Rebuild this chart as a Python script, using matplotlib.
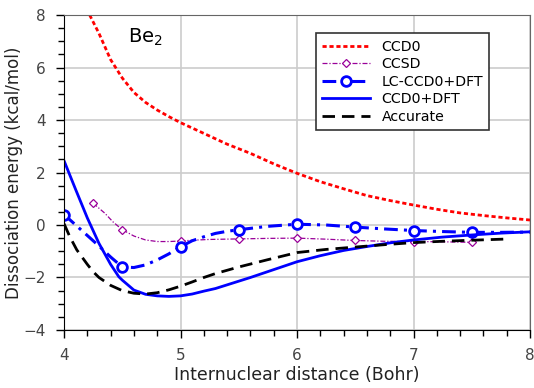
import numpy as np
import matplotlib
matplotlib.use("Agg")
import matplotlib.pyplot as plt
from matplotlib.ticker import MultipleLocator

# ======================
# DATA
# ======================
ccd0_x = [4.22, 4.3, 4.4, 4.5, 4.6, 4.7, 4.8, 4.9, 5.0, 5.2, 5.4, 5.6, 5.8,
          6.0, 6.2, 6.4, 6.6, 6.8, 7.0, 7.2, 7.4, 7.6, 7.8, 8.0]
ccd0_y = [8.0, 7.3, 6.3, 5.6, 5.05, 4.67, 4.38, 4.13, 3.9, 3.49, 3.08, 2.73, 2.33,
          1.97, 1.65, 1.38, 1.12, 0.93, 0.76, 0.6, 0.46, 0.36, 0.27, 0.19]

ccsd_x = [4.25, 4.35, 4.42, 4.5, 4.6, 4.7, 4.8, 4.9, 5.0, 5.1, 5.25, 5.5, 5.75,
          6.0, 6.25, 6.5, 6.75, 7.0, 7.25, 7.5]
ccsd_y = [0.83, 0.45, 0.12, -0.18, -0.42, -0.57, -0.63, -0.63, -0.61, -0.58, -0.55,
          -0.53, -0.51, -0.50, -0.54, -0.59, -0.62, -0.63, -0.64, -0.66]
ccsd_pts = [4.25, 4.5, 5.0, 5.5, 6.0, 6.5, 7.0, 7.5]

lc_x = [4.0, 4.1, 4.2, 4.3, 4.4, 4.5, 4.6, 4.7, 4.8, 4.9, 5.0, 5.1, 5.2, 5.3,
        5.4, 5.5, 5.75, 6.0, 6.25, 6.5, 6.75, 7.0, 7.25, 7.5, 7.75, 8.0]
lc_y = [0.4, 0.0, -0.4, -0.8, -1.22, -1.6, -1.62, -1.52, -1.33, -1.1, -0.83, -0.6,
        -0.45, -0.32, -0.24, -0.18, -0.05, 0.03, 0.0, -0.08, -0.15, -0.21, -0.25,
        -0.28, -0.28, -0.27]
lc_pts = [4.0, 4.5, 5.0, 5.5, 6.0, 6.5, 7.0, 7.5]

dft_x = [4.0, 4.1, 4.2, 4.3, 4.4, 4.47, 4.5, 4.6, 4.7, 4.8, 4.9, 5.0, 5.1, 5.2,
         5.3, 5.4, 5.6, 5.8, 6.0, 6.2, 6.4, 6.6, 6.8, 7.0, 7.25, 7.5, 7.75, 8.0]
dft_y = [2.45, 1.35, 0.27, -0.7, -1.5, -1.97, -2.1, -2.48, -2.64, -2.7, -2.72, -2.7,
         -2.63, -2.52, -2.42, -2.28, -2.0, -1.7, -1.4, -1.17, -0.97, -0.82, -0.68,
         -0.57, -0.46, -0.38, -0.31, -0.26]

acc_x = [4.0, 4.05, 4.11, 4.2, 4.25, 4.3, 4.4, 4.5, 4.6, 4.7, 4.8, 4.9, 5.0, 5.1,
         5.2, 5.3, 5.5, 5.75, 6.0, 6.25, 6.5, 6.75, 7.0, 7.25, 7.5, 7.83]
acc_y = [0.05, -0.45, -0.95, -1.5, -1.78, -2.0, -2.3, -2.5, -2.6, -2.63, -2.58,
         -2.47, -2.33, -2.17, -2.0, -1.85, -1.6, -1.32, -1.05, -0.93, -0.84, -0.75,
         -0.67, -0.62, -0.58, -0.53]

plt.rcParams["font.family"] = ["DejaVu Sans"]

fig = plt.figure(figsize=(5.34, 3.88), dpi=100)
ax = fig.add_axes([0.1199, 0.1495, 0.8726, 0.8118])

ax.plot(ccd0_x, ccd0_y, color="red", lw=2.0, linestyle=(0, (1.5, 1.0)), label="CCD0")
ax.plot(ccsd_x, ccsd_y, color="#990099", lw=0.9, linestyle=(0, (4, 1.5, 1, 1.5)),
        marker="D", markersize=4.5, mfc="white", mec="#990099", mew=0.9,
        markevery=list(np.flatnonzero(np.isin(ccsd_x, ccsd_pts))), label="CCSD")
ax.plot(lc_x, lc_y, color="blue", lw=2.2, linestyle=(0, (4.5, 2, 1, 2)),
        marker="o", markersize=7, mfc="white", mec="blue", mew=2.0,
        markevery=list(np.flatnonzero(np.isin(lc_x, lc_pts))), label="LC-CCD0+DFT")
ax.plot(dft_x, dft_y, color="blue", lw=2.0, label="CCD0+DFT")
ax.plot(acc_x, acc_y, color="black", lw=2.0, linestyle=(0, (4.5, 2.5)), label="Accurate")

ax.set_xlim(4, 8)
ax.set_ylim(-4, 8)
ax.xaxis.set_major_locator(MultipleLocator(1))
ax.xaxis.set_minor_locator(MultipleLocator(0.2))
ax.yaxis.set_major_locator(MultipleLocator(2))
ax.yaxis.set_minor_locator(MultipleLocator(0.5))
ax.tick_params(which="both", direction="out", top=False, right=False,
               colors="black", labelcolor="#444444", labelsize=11)
ax.tick_params(which="major", length=6, width=1.0, pad=7)
ax.tick_params(which="minor", length=4, width=1.0)
ax.grid(True, which="major", color="#cccccc", lw=1.2)
ax.set_axisbelow(True)

for side in ["top", "right"]:
    ax.spines[side].set_color("#666666")
for side in ["left", "bottom"]:
    ax.spines[side].set_color("black")

ax.set_xlabel("Internuclear distance (Bohr)", fontsize=12.5, color="#222222", labelpad=2)
ax.set_ylabel("Dissociation energy (kcal/mol)", fontsize=12, color="#222222")
ax.yaxis.set_label_coords(-0.088, 0.5)

ax.text(4.7, 7.15, "Be$_2$", fontsize=14, ha="center", va="center")

leg = ax.legend(loc="upper right", bbox_to_anchor=(0.913, 0.942), fontsize=10.2,
                frameon=True, fancybox=False, framealpha=1, edgecolor="#333333",
                handlelength=3.4, handletextpad=0.8, labelspacing=0.25,
                borderpad=0.45, borderaxespad=0)
leg.get_frame().set_linewidth(1.2)

plt.savefig("out.png", dpi=100)
plt.close()
